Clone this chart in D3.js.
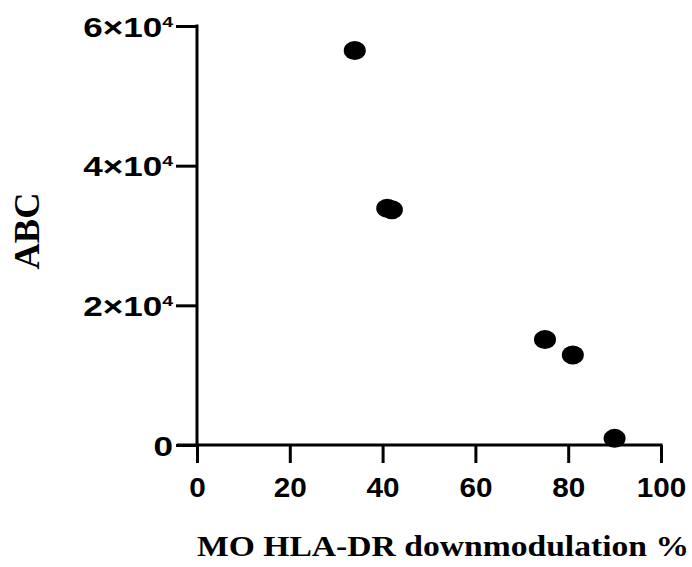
<!DOCTYPE html>
<html>
<head>
<meta charset="utf-8">
<script src="https://cdn.jsdelivr.net/npm/d3@7"></script>
<style>
  body { margin: 0; background: #fff; }
</style>
</head>
<body>
<script>
// values
const downmod = [34, 41, 42, 75, 81, 90];
const abc = [56500, 33900, 33700, 15100, 12900, 950];
const xTicks = [0, 20, 40, 60, 80, 100];
const yTicks = [0, 20000, 40000, 60000];
const yTickLabels = ['0', '2×10|4', '4×10|4', '6×10|4'];

const w = 692;
const h = 567;
const svg = d3.select('body').append('svg').attr('width', w).attr('height', h);

const xScale = d3.scaleLinear().domain([0, 100]).range([197, 661]);
const yScale = d3.scaleLinear().domain([0, 60000]).range([445, 26]);

// x axis
const xAxis = svg.append('g')
  .attr('transform', 'translate(0,445)')
  .call(d3.axisBottom(xScale).tickValues(xTicks).tickSize(18).tickSizeOuter(0));
xAxis.select('.domain').remove();
xAxis.append('line')
  .attr('x1', 177).attr('x2', xScale(100) + 1.5)
  .attr('stroke', '#000').attr('stroke-width', 3);
xAxis.selectAll('.tick line').attr('stroke', '#000').attr('stroke-width', 3);
xAxis.selectAll('.tick text')
  .attr('y', 0)
  .attr('dy', 0)
  .attr('transform', 'translate(0,52) scale(1.1,1)')
  .attr('fill', '#000')
  .style('font-family', 'Liberation Sans, Arial, sans-serif')
  .style('font-weight', 'bold')
  .style('font-size', '27px');

// y axis
const yAxis = svg.append('g')
  .attr('transform', 'translate(197,0)')
  .call(d3.axisLeft(yScale).tickValues(yTicks).tickSize(21).tickSizeOuter(0).tickFormat(''));
yAxis.select('.domain').remove();
yAxis.append('line')
  .attr('y1', yScale(60000) - 1.5).attr('y2', yScale(0))
  .attr('stroke', '#000').attr('stroke-width', 3);
yAxis.selectAll('.tick line').attr('stroke', '#000').attr('stroke-width', 3);
yAxis.selectAll('.tick').each(function (d, i) {
  const parts = yTickLabels[i].split('|');
  const t = d3.select(this).append('text')
    .attr('text-anchor', 'end')
    .attr('transform', 'translate(-24,10) scale(1.3,1)')
    .attr('fill', '#000')
    .style('font-family', 'Liberation Sans, Arial, sans-serif')
    .style('font-weight', 'bold')
    .style('font-size', '27px');
  t.append('tspan').text(parts[0]);
  if (parts[1]) {
    t.append('tspan').attr('dy', -10).style('font-size', '15px').text(parts[1]);
  }
});

// points
svg.append('g')
  .selectAll('ellipse')
  .data(downmod)
  .enter()
  .append('ellipse')
  .attr('cx', (d) => xScale(d))
  .attr('cy', (d, i) => yScale(abc[i]))
  .attr('rx', 11)
  .attr('ry', 9.5)
  .attr('fill', '#000');

// axis titles
svg.append('text')
  .attr('x', 197)
  .attr('y', 556)
  .attr('textLength', 492)
  .attr('lengthAdjust', 'spacingAndGlyphs')
  .style('font-family', 'Liberation Serif, Times New Roman, serif')
  .style('font-weight', 'bold')
  .style('font-size', '30px')
  .text('MO HLA-DR downmodulation %');

svg.append('text')
  .attr('transform', 'translate(39,231) rotate(-90)')
  .attr('text-anchor', 'middle')
  .attr('textLength', 77)
  .attr('lengthAdjust', 'spacingAndGlyphs')
  .style('font-family', 'Liberation Serif, Times New Roman, serif')
  .style('font-weight', 'bold')
  .style('font-size', '36px')
  .text('ABC');
</script>
</body>
</html>
